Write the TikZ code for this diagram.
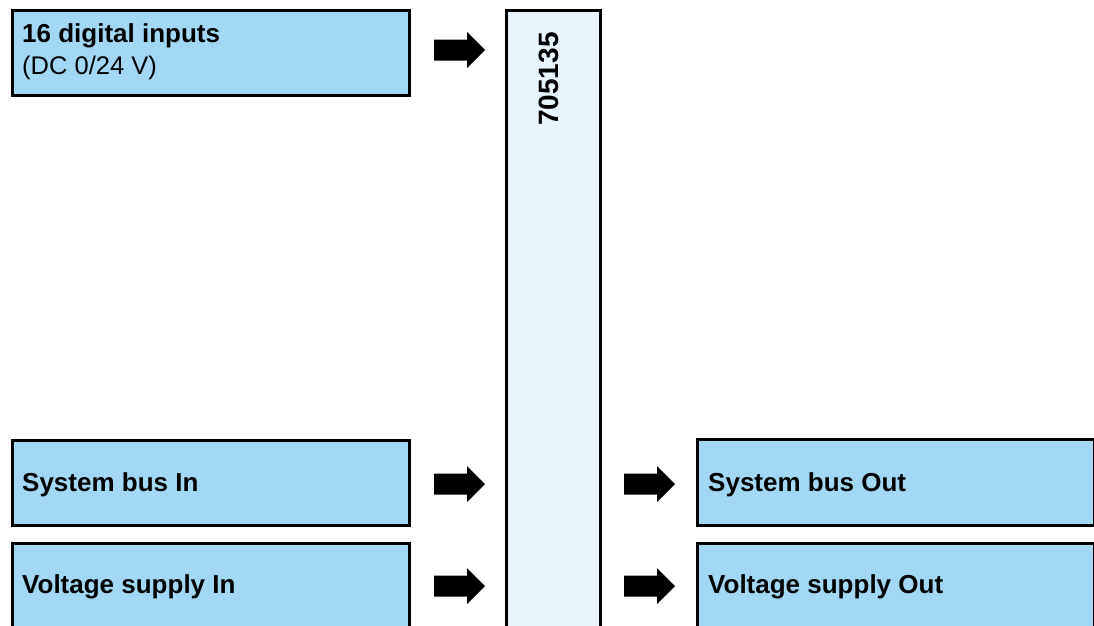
\documentclass[tikz,border=0pt]{standalone}
\usepackage{fontspec}
\setmainfont{Liberation Sans}
\definecolor{boxblue}{HTML}{A3D8F5}
\definecolor{barblue}{HTML}{E8F5FD}
\begin{document}
\begin{tikzpicture}[x=1pt,y=-1pt,
  box/.style={draw=black, fill=boxblue, line width=3pt, anchor=north west, inner sep=0pt},
  bar/.style={draw=black, fill=barblue, line width=3pt, anchor=north west, inner sep=0pt},
  lbl/.style={anchor=base west, inner sep=0pt, font=\fontsize{26}{31}\selectfont\bfseries},
  sub/.style={anchor=base west, inner sep=0pt, font=\fontsize{25.5}{31}\selectfont},
  fatarrow/.pic={\fill[black] (0,-10.5) -- (33,-10.5) -- (33,-18) -- (51,0) -- (33,18) -- (33,10.5) -- (0,10.5) -- cycle;}
]
\useasboundingbox (0,0) rectangle (1094,625);
\begin{scope}
\clip (0,0) rectangle (1094,625);
% boxes
\node[box, minimum width=397pt, minimum height=85pt] (din) at (10.5,8.5) {};
\node[bar, minimum width=94pt, minimum height=640pt] (dev) at (504.5,8.5) {};
\node[box, minimum width=397pt, minimum height=85pt] (sbin) at (10.5,438.5) {};
\node[box, minimum width=397pt, minimum height=100pt] (vin) at (10.5,541.5) {};
\node[box, minimum width=396.5pt, minimum height=86pt] (sbout) at (696,437.5) {};
\node[box, minimum width=396.5pt, minimum height=100pt] (vout) at (696,541.5) {};
\end{scope}
% texts
\node[lbl] (t1) at (22,42) {16 digital inputs};
\node[sub] (t1b) at (22,74) {(DC 0/24 V)};
\node[anchor=base, rotate=90, inner sep=0pt, font=\fontsize{28}{33}\selectfont\bfseries] (tdev) at (558,79) {705135};
\node[lbl] (t2) at (22,491) {System bus In};
\node[lbl] (t3) at (22,593) {Voltage supply In};
\node[lbl] (t4) at (708,491) {System bus Out};
\node[lbl] (t5) at (708,593) {Voltage supply Out};
% arrows
\pic at (434,50) {fatarrow};
\pic at (434,484) {fatarrow};
\pic at (434,586) {fatarrow};
\pic at (624,484) {fatarrow};
\pic at (624,586) {fatarrow};
\end{tikzpicture}
\end{document}
